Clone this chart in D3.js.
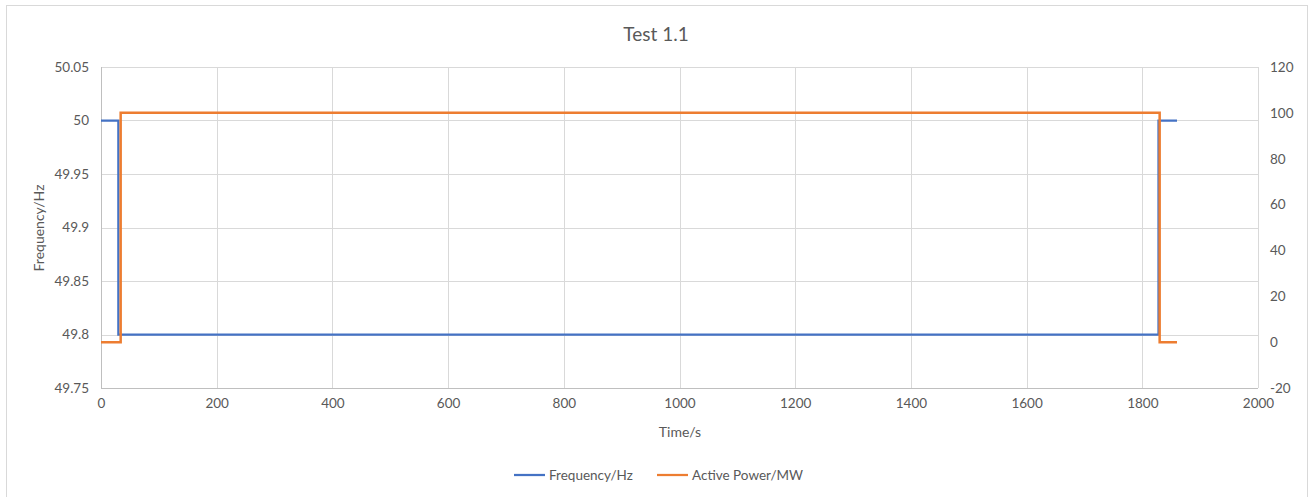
<!DOCTYPE html>
<html><head><meta charset="utf-8">
<script src="https://cdn.jsdelivr.net/npm/d3@7"></script>
<style>body{margin:0;background:#fff;}svg{display:block;font-family:Lato,"Open Sans",sans-serif;}</style>
</head><body>
<svg id="c" width="1315" height="497"></svg>
<script>
const freqTime = [0, 30, 1828, 1860];
const freqValues = [50, 49.8, 50, 50];
const powerTime = [0, 34, 1830, 1860];
const powerValues = [0, 100, 0, 0];
const xTicks = [0,200,400,600,800,1000,1200,1400,1600,1800,2000];
const leftTicks = [49.75,49.8,49.85,49.9,49.95,50,50.05];
const rightTicks = [-20,0,20,40,60,80,100,120];
const seriesNames = ["Frequency/Hz","Active Power/MW"];
const colors = ["#4472C4","#ED7D31"];

const svg = d3.select("#c");
const L=101,R=1258,T=67,B=388;
const txt="#595959", grid="#d9d9d9";
svg.append("rect").attr("x",6.5).attr("y",5.5).attr("width",1301).attr("height",495).attr("fill","#fff").attr("stroke","#d9d9d9");

const x=d3.scaleLinear().domain([0,2000]).range([L,R]);
const yL=d3.scaleLinear().domain([49.75,50.05]).range([B,T]);
const yR=d3.scaleLinear().domain([-20,120]).range([B,T]);

// gridlines
svg.append("g").selectAll("line").data(leftTicks).join("line")
  .attr("x1",L).attr("x2",R).attr("y1",d=>Math.round(yL(d))+0.5).attr("y2",d=>Math.round(yL(d))+0.5)
  .attr("stroke",grid).attr("stroke-width",1);
svg.append("g").selectAll("line").data(xTicks).join("line")
  .attr("y1",T).attr("y2",B).attr("x1",d=>Math.round(x(d))+0.5).attr("x2",d=>Math.round(x(d))+0.5)
  .attr("stroke",grid).attr("stroke-width",1);
// axis lines
svg.append("line").attr("x1",L+0.5).attr("x2",L+0.5).attr("y1",T).attr("y2",B+0.5).attr("stroke","#bfbfbf");
svg.append("line").attr("x1",L).attr("x2",R).attr("y1",B+0.5).attr("y2",B+0.5).attr("stroke","#bfbfbf");

// axes via d3
const plain=d=>String(+(+d).toFixed(2));
const gx=svg.append("g").attr("transform",`translate(0,${B})`)
  .call(d3.axisBottom(x).tickValues(xTicks).tickFormat(plain).tickSize(0).tickPadding(10));
const gl=svg.append("g").attr("transform",`translate(${L},0)`)
  .call(d3.axisLeft(yL).tickValues(leftTicks).tickFormat(plain).tickSize(0).tickPadding(12));
const gr=svg.append("g").attr("transform",`translate(${R},0)`)
  .call(d3.axisRight(yR).tickValues(rightTicks).tickFormat(plain).tickSize(0).tickPadding(12));
[gx,gl,gr].forEach(g=>{g.select(".domain").remove();g.selectAll("text").attr("fill",txt).style("font-size","13.5px").style("font-family","Lato,'Open Sans',sans-serif");});
gx.selectAll("text").attr("dy","0.71em");

// title and axis titles
svg.append("text").attr("x",656).attr("y",41).attr("text-anchor","middle").attr("fill",txt).style("font-size","19px").text("Test 1.1");
svg.append("text").attr("x",680).attr("y",437).attr("text-anchor","middle").attr("fill",txt).style("font-size","14px").text("Time/s");
svg.append("text").attr("transform","translate(44,228) rotate(-90)").attr("text-anchor","middle").attr("fill",txt).style("font-size","14px").text("Frequency/Hz");

// lines
const fData=freqTime.map((t,i)=>[t,freqValues[i]]);
const pData=powerTime.map((t,i)=>[t,powerValues[i]]);
svg.append("path").datum(fData).attr("fill","none").attr("stroke",colors[0]).attr("stroke-width",2.25)
  .attr("d",d3.line().x(d=>x(d[0])).y(d=>yL(d[1])).curve(d3.curveStepAfter));
svg.append("path").datum(pData).attr("fill","none").attr("stroke",colors[1]).attr("stroke-width",2.5)
  .attr("d",d3.line().x(d=>x(d[0])).y(d=>yR(d[1])).curve(d3.curveStepAfter));

// legend
const legX=[514,657];
seriesNames.forEach((n,i)=>{
  svg.append("line").attr("x1",legX[i]).attr("x2",legX[i]+31).attr("y1",475).attr("y2",475).attr("stroke",colors[i]).attr("stroke-width",2.25);
  svg.append("text").attr("x",legX[i]+35).attr("y",480).attr("fill",txt).style("font-size","13.5px").text(n);
});
</script>
</body></html>
